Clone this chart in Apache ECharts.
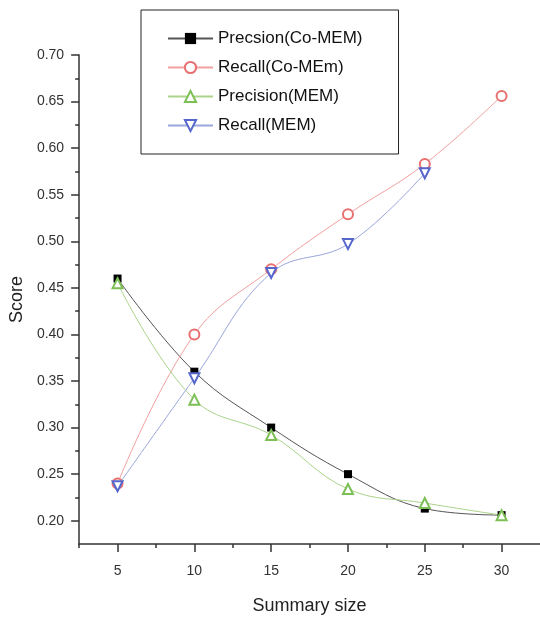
<!DOCTYPE html>
<html>
<head>
<meta charset="utf-8">
<script src="https://cdn.jsdelivr.net/npm/echarts@6/dist/echarts.min.js"></script>
<style>
  html, body { margin: 0; padding: 0; background: #fff; }
  #chart { width: 540px; height: 622px; }
</style>
</head>
<body>
<div id="chart"></div>
<script>
// summary sizes on the x axis
const sizes = [5, 10, 15, 20, 25, 30];
const precisionCoMEM = [0.46, 0.36, 0.30, 0.25, 0.213, 0.206];
const recallCoMEM = [0.24, 0.40, 0.47, 0.529, 0.583, 0.656];
const precisionMEM = [0.455, 0.33, 0.292, 0.234, 0.219, 0.206];
const recallMEM = [0.237, 0.353, 0.466, 0.497, 0.573];

const xTicks = [5, 10, 15, 20, 25, 30];
const yTicks = [0.20, 0.25, 0.30, 0.35, 0.40, 0.45, 0.50, 0.55, 0.60, 0.65, 0.70];

// minor ticks sit half way between the major ones
const halfway = (arr) => {
  const out = [];
  for (let i = 0; i < arr.length - 1; i++) out.push((arr[i] + arr[i + 1]) / 2);
  return out;
};
const xMinor = [2.5].concat(halfway(xTicks));
const yMinor = halfway(yTicks);

const pairs = (ys) => ys.map((y, i) => [sizes[i], y]);

const axisColor = '#333';
const font = 'Liberation Sans, Arial, sans-serif';

const chart = echarts.init(document.getElementById('chart'));

function lineSeries(name, data, lineColor, symbol, itemStyle, extra) {
  return Object.assign({
    name: name,
    type: 'line',
    data: pairs(data),
    smooth: 0.4,
    symbol: symbol,
    symbolSize: 9,
    lineStyle: { color: lineColor, width: 1 },
    itemStyle: itemStyle,
    emphasis: { disabled: true },
  }, extra || {});
}

chart.setOption({
  animation: false,
  backgroundColor: '#fff',
  textStyle: { fontFamily: font },
  grid: { left: 79, right: 0, top: 55, bottom: 78 },
  legend: {
    orient: 'vertical',
    left: 141,
    top: 10,
    padding: [20, 36, 20, 26],
    itemWidth: 45,
    itemHeight: 14,
    itemGap: 12,
    borderColor: '#222',
    borderWidth: 1,
    backgroundColor: '#fff',
    textStyle: { fontSize: 17, color: '#111', fontFamily: font },
  },
  xAxis: [{
    type: 'value',
    min: 2.5,
    max: 32.5,
    name: 'Summary size',
    nameLocation: 'middle',
    nameGap: 53,
    nameTextStyle: { fontSize: 18, color: '#222' },
    axisLine: { show: true, lineStyle: { color: axisColor, width: 1.5 } },
    axisTick: { show: true, customValues: xTicks, length: 8, lineStyle: { color: axisColor, width: 1.5 } },
    axisLabel: { customValues: xTicks, fontSize: 14, color: '#333', margin: 20 },
    splitLine: { show: false },
  }, {
    type: 'value',
    min: 2.5,
    max: 32.5,
    position: 'bottom',
    axisLine: { show: false },
    axisTick: { show: true, customValues: xMinor, length: 4, lineStyle: { color: axisColor, width: 1.5 } },
    axisLabel: { show: false },
    splitLine: { show: false },
  }],
  yAxis: [{
    type: 'value',
    min: 0.175,
    max: 0.70,
    name: 'Score',
    nameLocation: 'middle',
    nameGap: 51,
    nameTextStyle: { fontSize: 18, color: '#222' },
    axisLine: { show: true, lineStyle: { color: axisColor, width: 1.5 } },
    axisTick: { show: true, customValues: yTicks, length: 8, lineStyle: { color: axisColor, width: 1.5 } },
    axisLabel: { customValues: yTicks, fontSize: 14, color: '#333', margin: 15,
      formatter: (v) => v.toFixed(2) },
    splitLine: { show: false },
  }, {
    type: 'value',
    min: 0.175,
    max: 0.70,
    position: 'left',
    axisLine: { show: false },
    axisTick: { show: true, customValues: yMinor, length: 4, lineStyle: { color: axisColor, width: 1.5 } },
    axisLabel: { show: false },
    splitLine: { show: false },
  }],
  series: [
    lineSeries('Precsion(Co-MEM)', precisionCoMEM, '#555', 'rect',
      { color: '#000' }, { symbolSize: 8 }),
    lineSeries('Recall(Co-MEm)', recallCoMEM, '#f2a0a0', 'emptyCircle',
      { color: '#e87070', borderWidth: 1 }, { symbolSize: 10 }),
    lineSeries('Precision(MEM)', precisionMEM, '#aad48a', 'emptyTriangle',
      { color: '#7cbf55', borderWidth: 1 }, { symbolSize: 10 }),
    lineSeries('Recall(MEM)', recallMEM, '#9aa6dc', 'emptyTriangle',
      { color: '#5566cc', borderWidth: 1 }, { symbolSize: 10, symbolRotate: 180 }),
  ],
});
</script>
</body>
</html>
